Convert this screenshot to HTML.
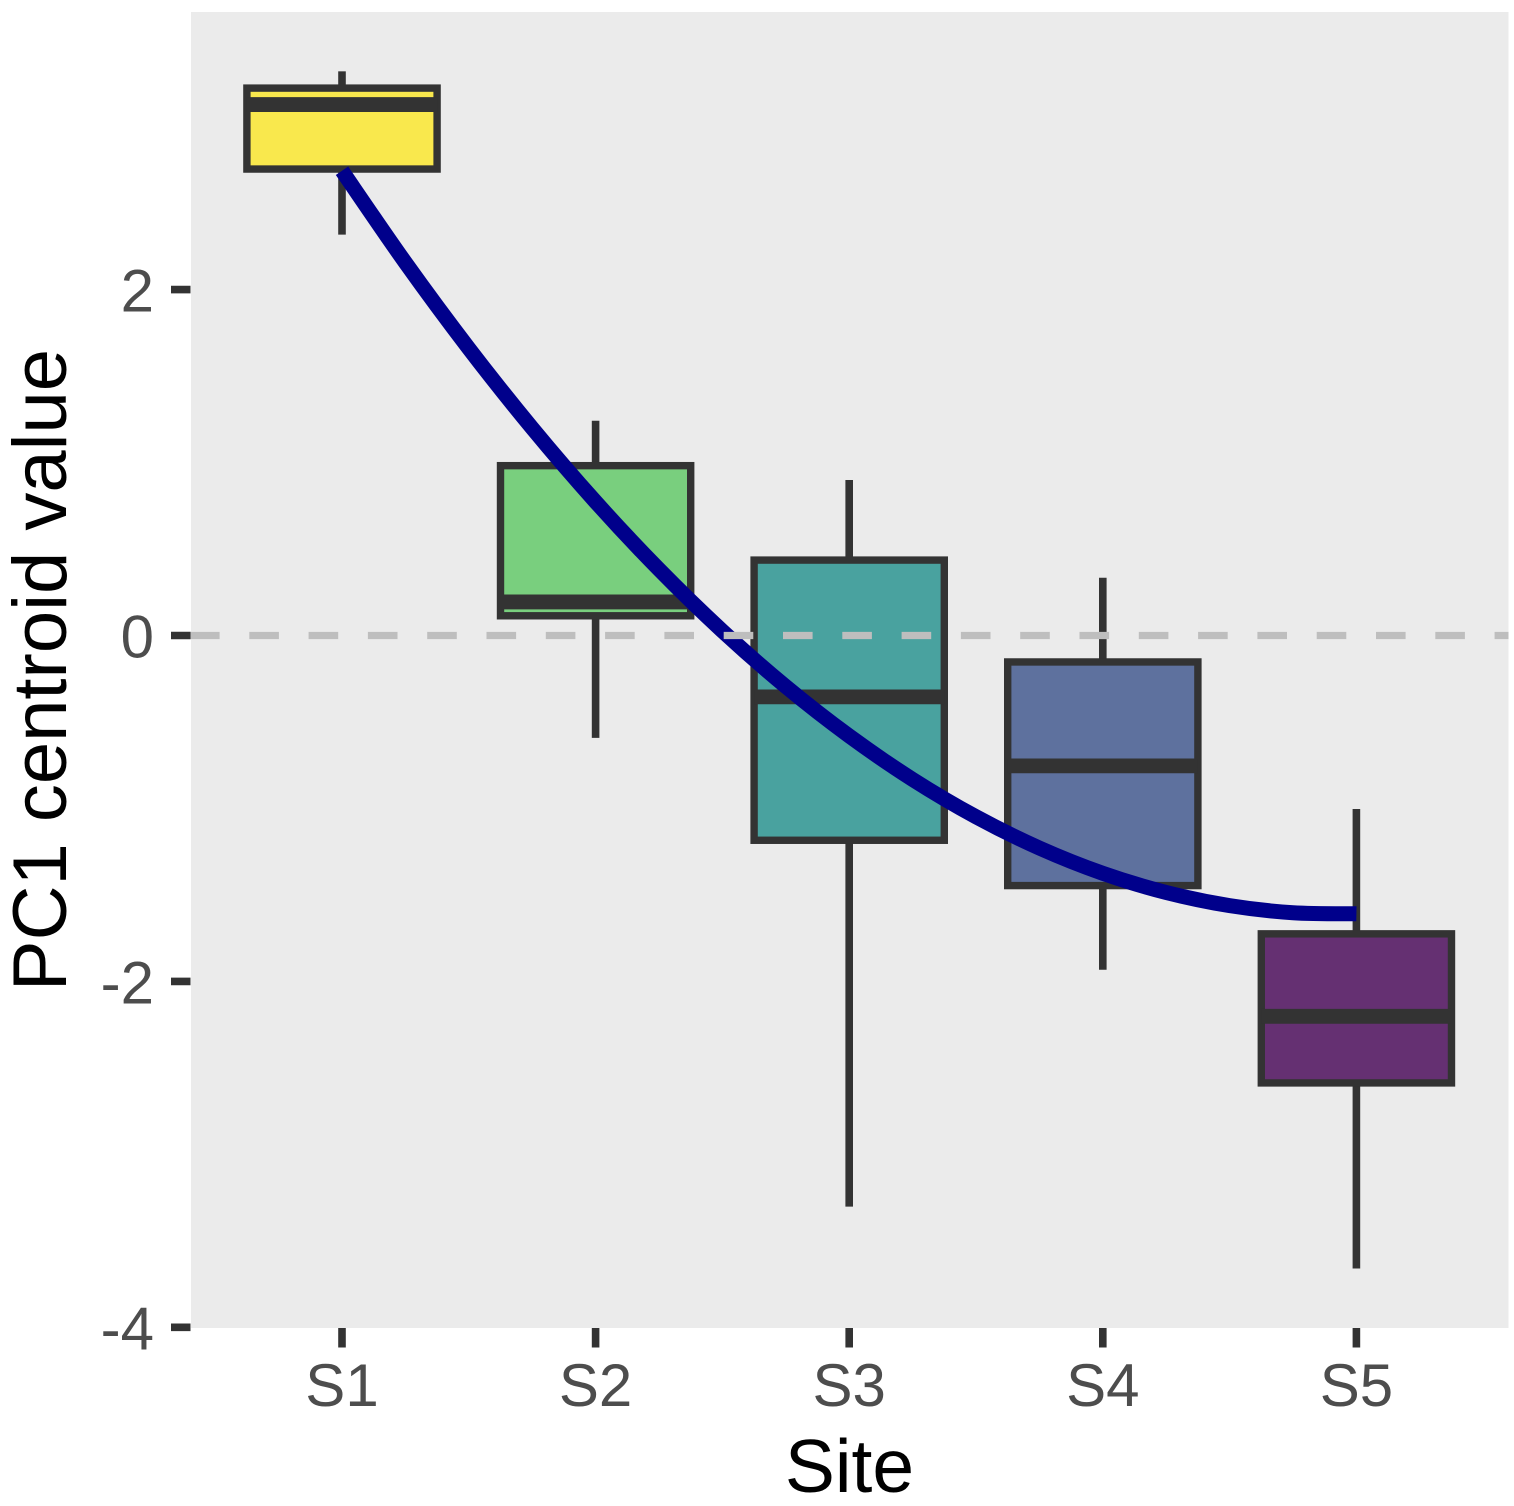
<!DOCTYPE html>
<html lang="en">
<head>
<meta charset="utf-8">
<title>PC1 centroid value by site</title>
<style>
  html, body { margin: 0; padding: 0; background: #ffffff; }
  svg { display: block; font-family: "Liberation Sans", Arial, sans-serif; }
</style>
</head>
<body>
<svg id="chart" xmlns="http://www.w3.org/2000/svg" width="1514" height="1506" viewBox="0 0 1514 1506">
  <rect x="191" y="12" width="1317.5" height="1316" fill="#ebebeb"/>
  <g id="marks"></g>
  <g id="yaxis"></g>
  <g id="xaxis"></g>
  <text x="849.5" y="1492" font-size="75" text-anchor="middle" fill="#000000">Site</text>
  <text transform="translate(66 670) rotate(-90)" font-size="76" text-anchor="middle" fill="#000000">PC1 centroid value</text>
</svg>
<script>
const sites = ['S1', 'S2', 'S3', 'S4', 'S5'];
const q3 = [3.165, 0.982, 0.436, -0.153, -1.725];
const median = [3.07, 0.194, -0.355, -0.754, -2.202];
const q1 = [2.697, 0.114, -1.184, -1.446, -2.587];
const whiskerHigh = [3.262, 1.242, 0.899, 0.334, -1.003];
const whiskerLow = [2.318, -0.592, -3.302, -1.933, -3.66];
const boxColors = ['#fde725', '#5dc863', '#21908c', '#3b528b', '#440154'];
const yTicks = [2, 0, -2, -4];
const yTickLabels = ['2', '0', '-2', '-4'];
const referenceValue = 0;
const curveSite = [1, 1.25, 1.5, 1.75, 2, 2.25, 2.5, 2.75, 3, 3.25, 3.5, 3.75, 4, 4.25, 4.5, 4.75, 5];
const curveValue = [2.687, 2.156, 1.66, 1.199, 0.773, 0.382, 0.026, -0.295, -0.581, -0.832, -1.048, -1.229, -1.375, -1.486, -1.562, -1.603, -1.609];

const NS = 'http://www.w3.org/2000/svg';
const xScale = site => 342 + (site - 1) * 253.6;
const yScale = value => 635.5 - value * 172.95;
const BOX_HALF_WIDTH = 0.375;

function make(tag, attrs, parent) {
  const el = document.createElementNS(NS, tag);
  for (const key in attrs) el.setAttribute(key, attrs[key]);
  parent.appendChild(el);
  return el;
}

function smoothPath(px, py) {
  let d = 'M' + px[0].toFixed(2) + ' ' + py[0].toFixed(2);
  for (let i = 0; i < px.length - 1; i++) {
    const a = Math.max(i - 1, 0);
    const b = Math.min(i + 2, px.length - 1);
    const c1x = px[i] + (px[i + 1] - px[a]) / 6;
    const c1y = py[i] + (py[i + 1] - py[a]) / 6;
    const c2x = px[i + 1] - (px[b] - px[i]) / 6;
    const c2y = py[i + 1] - (py[b] - py[i]) / 6;
    d += 'C' + c1x.toFixed(2) + ' ' + c1y.toFixed(2) + ' ' + c2x.toFixed(2) + ' ' + c2y.toFixed(2) + ' ' + px[i + 1].toFixed(2) + ' ' + py[i + 1].toFixed(2);
  }
  return d;
}

const marks = document.getElementById('marks');
const yAxis = document.getElementById('yaxis');
const xAxis = document.getElementById('xaxis');

sites.forEach((site, i) => {
  const cx = xScale(i + 1);
  const halfW = BOX_HALF_WIDTH * 253.6;
  const group = make('g', {}, marks);
  
  

  const upper = make('line', { x1: cx, x2: cx, y1: yScale(q3[i]), y2: yScale(whiskerHigh[i]), stroke: '#333333', 'stroke-width': 7.6 }, group);
  
  

  const lower = make('line', { x1: cx, x2: cx, y1: yScale(q1[i]), y2: yScale(whiskerLow[i]), stroke: '#333333', 'stroke-width': 7.6 }, group);
  
  

  const box = make('rect', { x: cx - halfW, width: 2 * halfW, y: yScale(q3[i]), height: yScale(q1[i]) - yScale(q3[i]), fill: boxColors[i], 'fill-opacity': 0.8, stroke: '#333333', 'stroke-width': 7.4 }, group);
  
  

  const med = make('line', { x1: cx - halfW, x2: cx + halfW, y1: yScale(median[i]), y2: yScale(median[i]), stroke: '#333333', 'stroke-width': 14.8 }, group);
  
  

  const tick = make('line', { x1: cx, x2: cx, y1: 1328, y2: 1347.5, stroke: '#333333', 'stroke-width': 7.6 }, xAxis);
  
  

  const label = make('text', { x: cx, y: 1406, 'font-size': 60, 'text-anchor': 'middle', fill: '#4d4d4d' }, xAxis);
  label.textContent = site;
  
  
});

const curve = make('path', { d: smoothPath(curveSite.map(xScale), curveValue.map(yScale)), fill: 'none', stroke: '#00008b', 'stroke-width': 15, 'stroke-linejoin': 'round', 'stroke-linecap': 'butt' }, marks);



const refLine = make('line', { x1: 190, x2: 1508.5, y1: yScale(referenceValue), y2: yScale(referenceValue), stroke: '#bebebe', 'stroke-width': 7.2, 'stroke-dasharray': '29.6 29.7' }, marks);



yTicks.forEach((value, i) => {
  const y = yScale(value);
  const tick = make('line', { x1: 171, x2: 190.5, y1: y, y2: y, stroke: '#333333', 'stroke-width': 7.6 }, yAxis);
  
  

  const label = make('text', { x: 154, y: y + 22, 'font-size': 60, 'text-anchor': 'end', fill: '#4d4d4d' }, yAxis);
  label.textContent = yTickLabels[i];
  
  
});
</script>
</body>
</html>
